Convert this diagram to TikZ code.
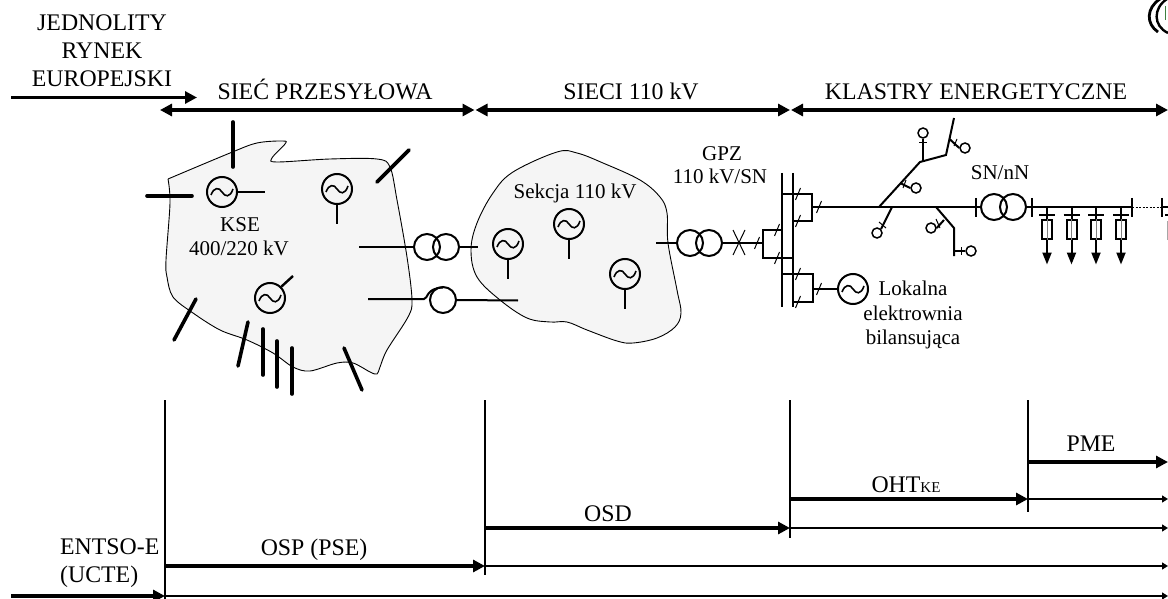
\documentclass[tikz,border=0pt]{standalone}
\usepackage{fontspec}
\setmainfont{Liberation Serif}
\usetikzlibrary{arrows.meta}
\definecolor{blobfill}{HTML}{F5F5F5}
\definecolor{logogreen}{HTML}{3F7F3F}
\tikzset{
  bigtxt/.style={anchor=base,inner sep=0pt,align=center,font=\fontsize{23.8}{23.8}\selectfont,text=black},
  smalltxt/.style={anchor=base,inner sep=0pt,font=\fontsize{21}{21}\selectfont,text=black},
  blob/.style={draw=black,fill=blobfill,line width=0.9pt},
  heavy/.style={line width=3.6pt,line cap=round},
  wire/.style={line width=2pt},
  busbar/.style={line width=2.4pt},
  bigarrow/.style={line width=3.6pt,-{Triangle[length=12pt,width=12pt]}},
  bothways/.style={line width=3.6pt,{Triangle[length=12pt,width=12pt]}-{Triangle[length=12pt,width=12pt]}},
  thinarrow/.style={line width=1.4pt,-{Triangle[length=6pt,width=7pt]}},
  gen/.style={circle,draw,line width=2pt,minimum size=30pt,inner sep=0pt},
  trafo/.style={circle,draw,line width=2pt,minimum size=26pt,inner sep=0pt},
  term/.style={circle,draw,line width=1.5pt,minimum size=10pt,inner sep=0pt,fill=white},
  fusebox/.style={rectangle,draw,line width=2pt,minimum width=10pt,minimum height=19pt,inner sep=0pt},
  tk/.style={line width=1pt},
}
\newcommand{\waveof}[1]{\draw[line width=1.6pt,shift={(#1)}] (-11,3) .. controls (-8,-5) and (-3,-5) .. (0,0) .. controls (3,5) and (8,6) .. (11,-3);}
\newcommand{\slashat}[2]{\draw[tk] (#1-2.5,#2+6) -- (#1+2.5,#2-6);}
\begin{document}
\begin{tikzpicture}[x=1pt,y=-1pt]
\useasboundingbox (0,0) rectangle (1168,599);
\clip (0,0) rectangle (1168,599);
% blobs
\draw[blob] plot[smooth,tension=0.55] coordinates {(168,179) (230,153) (257,143) (283,141) (285,144) (272,158) (277,162) (330,159) (377,159) (390,167) (397,200) (407,257) (412,300) (408,317) (387,350) (380,367) (377,374) (370,372) (353,363) (337,363) (310,371) (293,367) (273,353) (247,340) (220,330) (193,313) (173,297) (167,277) (166,260) (170,203) (168,179)};
\draw[blob] plot[smooth cycle,tension=0.6] coordinates {(557,152) (577,153) (603,163) (640,180) (660,197) (667,213) (668,243) (677,290) (681,313) (675,327) (657,338) (633,343) (617,341) (587,330) (567,322) (550,322) (527,318) (500,300) (477,277) (471,250) (477,223) (493,193) (513,172)};
% top labels
\node[bigtxt] (jed) at (102,31) {JEDNOLITY};
\node[bigtxt] (ryn) at (102,59) {RYNEK};
\node[bigtxt] (eur) at (102,87) {EUROPEJSKI};
\node[bigtxt] (tsiec) at (325,100) {SIEĆ PRZESYŁOWA};
\node[bigtxt] (t110) at (631,100) {SIECI 110 kV};
\node[bigtxt] (tkl) at (976,100) {KLASTRY ENERGETYCZNE};
% top arrows
\coordinate (ma) at (11,97.5); \coordinate (mb) at (197,97.5);
\coordinate (s0) at (160,110); \coordinate (s1) at (474.5,110);
\coordinate (s2) at (475.5,110); \coordinate (s3) at (790,110);
\coordinate (s4) at (791,110); \coordinate (s5) at (1168,110);
\draw[bigarrow] (ma) -- (mb);
\draw[bothways] (s0) -- (s1);
\draw[bothways] (s2) -- (s3);
\draw[bothways] (s4) -- (s5);
% KSE
\node[gen] (g1) at (222,192) {}; \waveof{g1}
\node[gen] (g2) at (337,189) {}; \waveof{g2}
\node[gen] (g3) at (270,298) {}; \waveof{g3}
\draw[line width=2.4pt] (g1.east) -- ++(27,0);
\draw[line width=2.4pt] (g2.south) -- ++(0,19);
\draw[line width=2.4pt] (g3.45) -- (293,276);
\draw[heavy] (233,122) -- (233,167);
\draw[heavy] (147,196) -- (192,196);
\draw[heavy] (377,182) -- (409,150);
\draw[heavy] (196,299) -- (174,340);
\draw[heavy] (248,322) -- (238,366);
\draw[heavy] (263,329) -- (263,375);
\draw[heavy] (277,341) -- (277,387);
\draw[heavy] (292,348) -- (292,394);
\draw[heavy] (344,348) -- (362,390);
\node[smalltxt] (kse) at (240,231) {KSE};
\node[smalltxt] (kv4) at (239,255) {400/220 kV};
% links between blobs
\coordinate (l1) at (359,247); \coordinate (r1) at (478,247);
\node[trafo] (t1a) at (427,247) {};
\node[trafo] (t1b) at (446,247) {};
\draw[wire] (l1) -- (t1a.west);
\draw[wire] (t1b.east) -- (r1);
\coordinate (l2) at (368,299); \coordinate (r2) at (518,300.5);
\node[trafo] (t2) at (443,300) {};
\draw[wire] (l2) -- (424,299) .. controls (428,299) and (426,288) .. (443,287.5);
\draw[wire] (t2.east) -- (r2);
% Sekcja
\node[gen] (g4) at (508,244) {}; \waveof{g4}
\node[gen] (g5) at (569,224) {}; \waveof{g5}
\node[gen] (g6) at (625,274) {}; \waveof{g6}
\draw[line width=2.4pt] (g4.south) -- ++(0,19);
\draw[line width=2.4pt] (g5.south) -- ++(0,19);
\draw[line width=2.4pt] (g6.south) -- ++(0,19);
\node[smalltxt] (sek) at (575,198) {Sekcja 110 kV};
\node[smalltxt] (gpz) at (722,161) {GPZ};
\node[smalltxt] (gpzb) at (720,183) {110 kV/SN};
% GPZ
\coordinate (l3) at (656,243); \coordinate (b3) at (763,243);
\node[trafo] (t3a) at (690,243) {};
\node[trafo] (t3b) at (709,243) {};
\draw[wire] (l3) -- (t3a.west);
\draw[wire] (t3b.east) -- (b3);
\draw[tk] (733,230) -- (745,255);
\draw[tk] (745,230) -- (733,255);
\slashat{757}{243}
% bus bars
\draw[busbar] (782,173) coordinate (bus1t) -- (782,307);
\draw[busbar] (793,173) coordinate (bus2t) -- (793,307);
\draw[wire] (782,230) -- (763,230) -- (763,258) -- (793,258);
\slashat{777}{230} \slashat{777}{258}
\draw[wire] (782,194) -- (812,194) -- (812,221) -- (793,221);
\slashat{798}{194} \slashat{798}{221} \slashat{819}{207}
\draw[wire] (782,274) -- (813,274) -- (813,302) -- (793,302);
\slashat{798}{274} \slashat{798}{302} \slashat{819}{289}
\node[gen] (g7) at (853,289) {}; \waveof{g7}
\draw[wire] (813,289) -- (g7.west);
\node[smalltxt] (lok) at (913,295) {Lokalna};
\node[smalltxt] (ele) at (913,320) {elektrownia};
\node[smalltxt] (bil) at (913,344) {bilansująca};
% main feeder and tree
\coordinate (f0) at (812,207);
\coordinate (tk0) at (976,207);
\draw[wire] (f0) -- (tk0);
\draw[wire] (879,207) -- (920,162) -- (946,155) -- (954,118);
\node[term] (c1) at (923,133) {};
\draw[wire] (923,161) -- (c1.south);
\draw[tk] (919,142.5) -- (927,142.5);
\node[term] (c2) at (965,148) {};
\draw[wire] (949.5,139) -- (c2.west);
\draw[tk] (954,146) -- (957,139);
\node[term] (c3) at (916,188) {};
\draw[wire] (900,183) -- (c3.west);
\draw[tk] (903,188) -- (906,180);
\node[term] (c4) at (877,233) {};
\draw[wire] (892,207) -- (c4.north east);
\draw[tk] (879,222) -- (886,228);
\coordinate (n1) at (954,228);
\coordinate (n2) at (954,256);
\draw[wire] (936,207) -- (n1) -- (n2);
\node[term] (c5) at (971,251) {};
\draw[wire] (954,251) -- (c5.west);
\draw[tk] (961,247) -- (961,255);
\node[term] (c6) at (931,228) {};
\draw[wire] (944,220) -- (c6.east);
\draw[tk] (936,219) -- (940,228);
% SN/nN
\node[smalltxt] (snn) at (1000,180) {SN/nN};
\draw[wire] (976,198) -- (976,217);
\node[trafo] (t4a) at (994,207) {};
\node[trafo] (t4b) at (1013,207) {};
\draw[wire] (tk0) -- (t4a.west);
\draw[wire] (t4b.east) -- (1132,207);
\draw[wire] (1032,198) -- (1032,217);
\draw[wire] (1132,198) -- (1132,217);
\draw[line width=1pt,dash pattern=on 2pt off 1.5pt] (1132,207) -- (1162,207);
\draw[wire] (1162,198) -- (1162,217);
\draw[wire] (1162,207) -- (1168,207);
\draw[wire] (1165,215) -- (1168,215);
\draw[line width=1pt,black!35] (1167.5,221) -- (1167.5,240);
\foreach \x/\i in {1047/1,1071.5/2,1096/3,1121/4}{
  \node[fusebox] (fb\i) at (\x,229.5) {};
  \draw[wire] (\x,207) -- (fb\i.north);
  \draw[wire] (\x-8,214.5) -- (\x+8,214.5);
  \draw[line width=0.7pt,black!50] (fb\i.north) -- (fb\i.south);
  \draw[wire,-{Triangle[length=12pt,width=9pt]}] (fb\i.south) -- (\x,264.5);
}
% logo fragment
\draw[line width=2.8pt] (1160,-1) .. controls (1146,8) and (1146,24) .. (1158,32);
\draw[line width=2.4pt] (1167,-1) .. controls (1153,8) and (1153,26) .. (1168,33);
\draw[line width=1.6pt,logogreen] (1165.5,6) -- (1165.5,20);
% lower part
\coordinate (v1t) at (165,400); \coordinate (v1b) at (165,599);
\coordinate (v2t) at (485,400); \coordinate (v2b) at (485,575);
\coordinate (v3t) at (790,400); \coordinate (v3b) at (790,538);
\coordinate (v4t) at (1028,400); \coordinate (v4b) at (1028,512);
\draw[line width=1.8pt] (v1t) -- (v1b);
\draw[line width=1.5pt] (v2t) -- (v2b);
\draw[line width=1.5pt] (v3t) -- (v3b);
\draw[line width=1.8pt] (v4t) -- (v4b);
\draw[thinarrow] (1028,499) -- (1168,499);
\draw[thinarrow] (790,528) -- (1168,528);
\draw[thinarrow] (485,566) -- (1168,566);
\draw[thinarrow] (165,596) -- (1168,596);
\draw[bigarrow] (1028,462) -- (1168,462);
\draw[bigarrow] (790,499) -- (1028,499);
\draw[bigarrow] (485,528) -- (790,528);
\draw[bigarrow] (165,566) -- (485,566);
\draw[bigarrow] (11,596) -- (165,596);
\node[bigtxt] (pme) at (1091,451) {PME};
\node[bigtxt] (oht) at (906,492) {OHT\fontsize{15}{15}\selectfont KE};
\node[bigtxt] (osd) at (608,521) {OSD};
\node[bigtxt] (osp) at (314,555) {OSP (PSE)};
\node[bigtxt,anchor=base west] (ent) at (60,554) {ENTSO-E};
\node[bigtxt,anchor=base west] (uct) at (60,582) {(UCTE)};
\end{tikzpicture}
\end{document}
